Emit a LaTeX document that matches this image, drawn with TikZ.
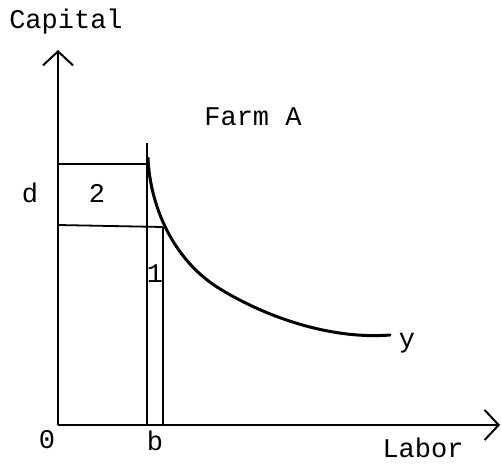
\documentclass[tikz,border=0pt]{standalone}
\usepackage{fontspec}
\setmainfont{Liberation Mono}
\usetikzlibrary{arrows.meta,positioning}

\begin{document}
\begin{tikzpicture}[
      x=0.5pt, y=-0.5pt,
      axis/.style={line width=1pt, -{Straight Barb[length=7pt, width=15pt, line width=1pt]}},
      lin/.style={line width=0.9pt},
      isoq/.style={line width=1.5pt, line cap=round},
      lbl/.style={font=\fontsize{13.5}{16}\selectfont, inner sep=0pt},
    ]
    \useasboundingbox (0,0) rectangle (501,464);

    % Axes
    \coordinate (O)    at (58,425);
    \coordinate (ytop) at (58,50);
    \coordinate (xend) at (500,425);
    \draw[axis] (O) -- (ytop);
    \draw[axis] (O) -- (xend);

    % Input levels
    \coordinate (b1)  at (147,425);
    \coordinate (b1t) at (147,143);
    \coordinate (b2)  at (163,425);
    \coordinate (b2t) at (163,227);
    \coordinate (d1)  at (58,164);
    \coordinate (d2)  at (58,225);

    \draw[lin] (b1) -- (b1t);
    \draw[lin] (b2) -- (b2t);
    \draw[lin] (d1) -- (b1 |- d1);
    \draw[lin] (d2) -- (b2t);

    % Isoquant y
    \coordinate (ystart) at (148,158);
    \coordinate (ymid)   at (217,287);
    \coordinate (yend)   at (390,335);
    \draw[isoq] (ystart) .. controls (150,205) and (172,258) .. (ymid)
                         .. controls (258,313) and (325,340) .. (yend);

    % Labels
    \node[lbl] (cap)   at (66,22)   {Capital};
    \node[lbl] (farm)  at (253,117) {Farm A};
    \node[lbl] (dlab)  at (30,193)  {d};
    \node[lbl] (two)   at (97,193)  {2};
    \node[lbl] (one)   at (155,274) {1};
    \node[lbl] (ylab)  at (407,343) {y};
    \node[lbl] (zero)  at (47,440)  {0};
    \node[lbl] (blab)  at (155,441) {b};
    \node[lbl] (labor) at (423,448) {Labor};

    \end{tikzpicture}
\end{document}
